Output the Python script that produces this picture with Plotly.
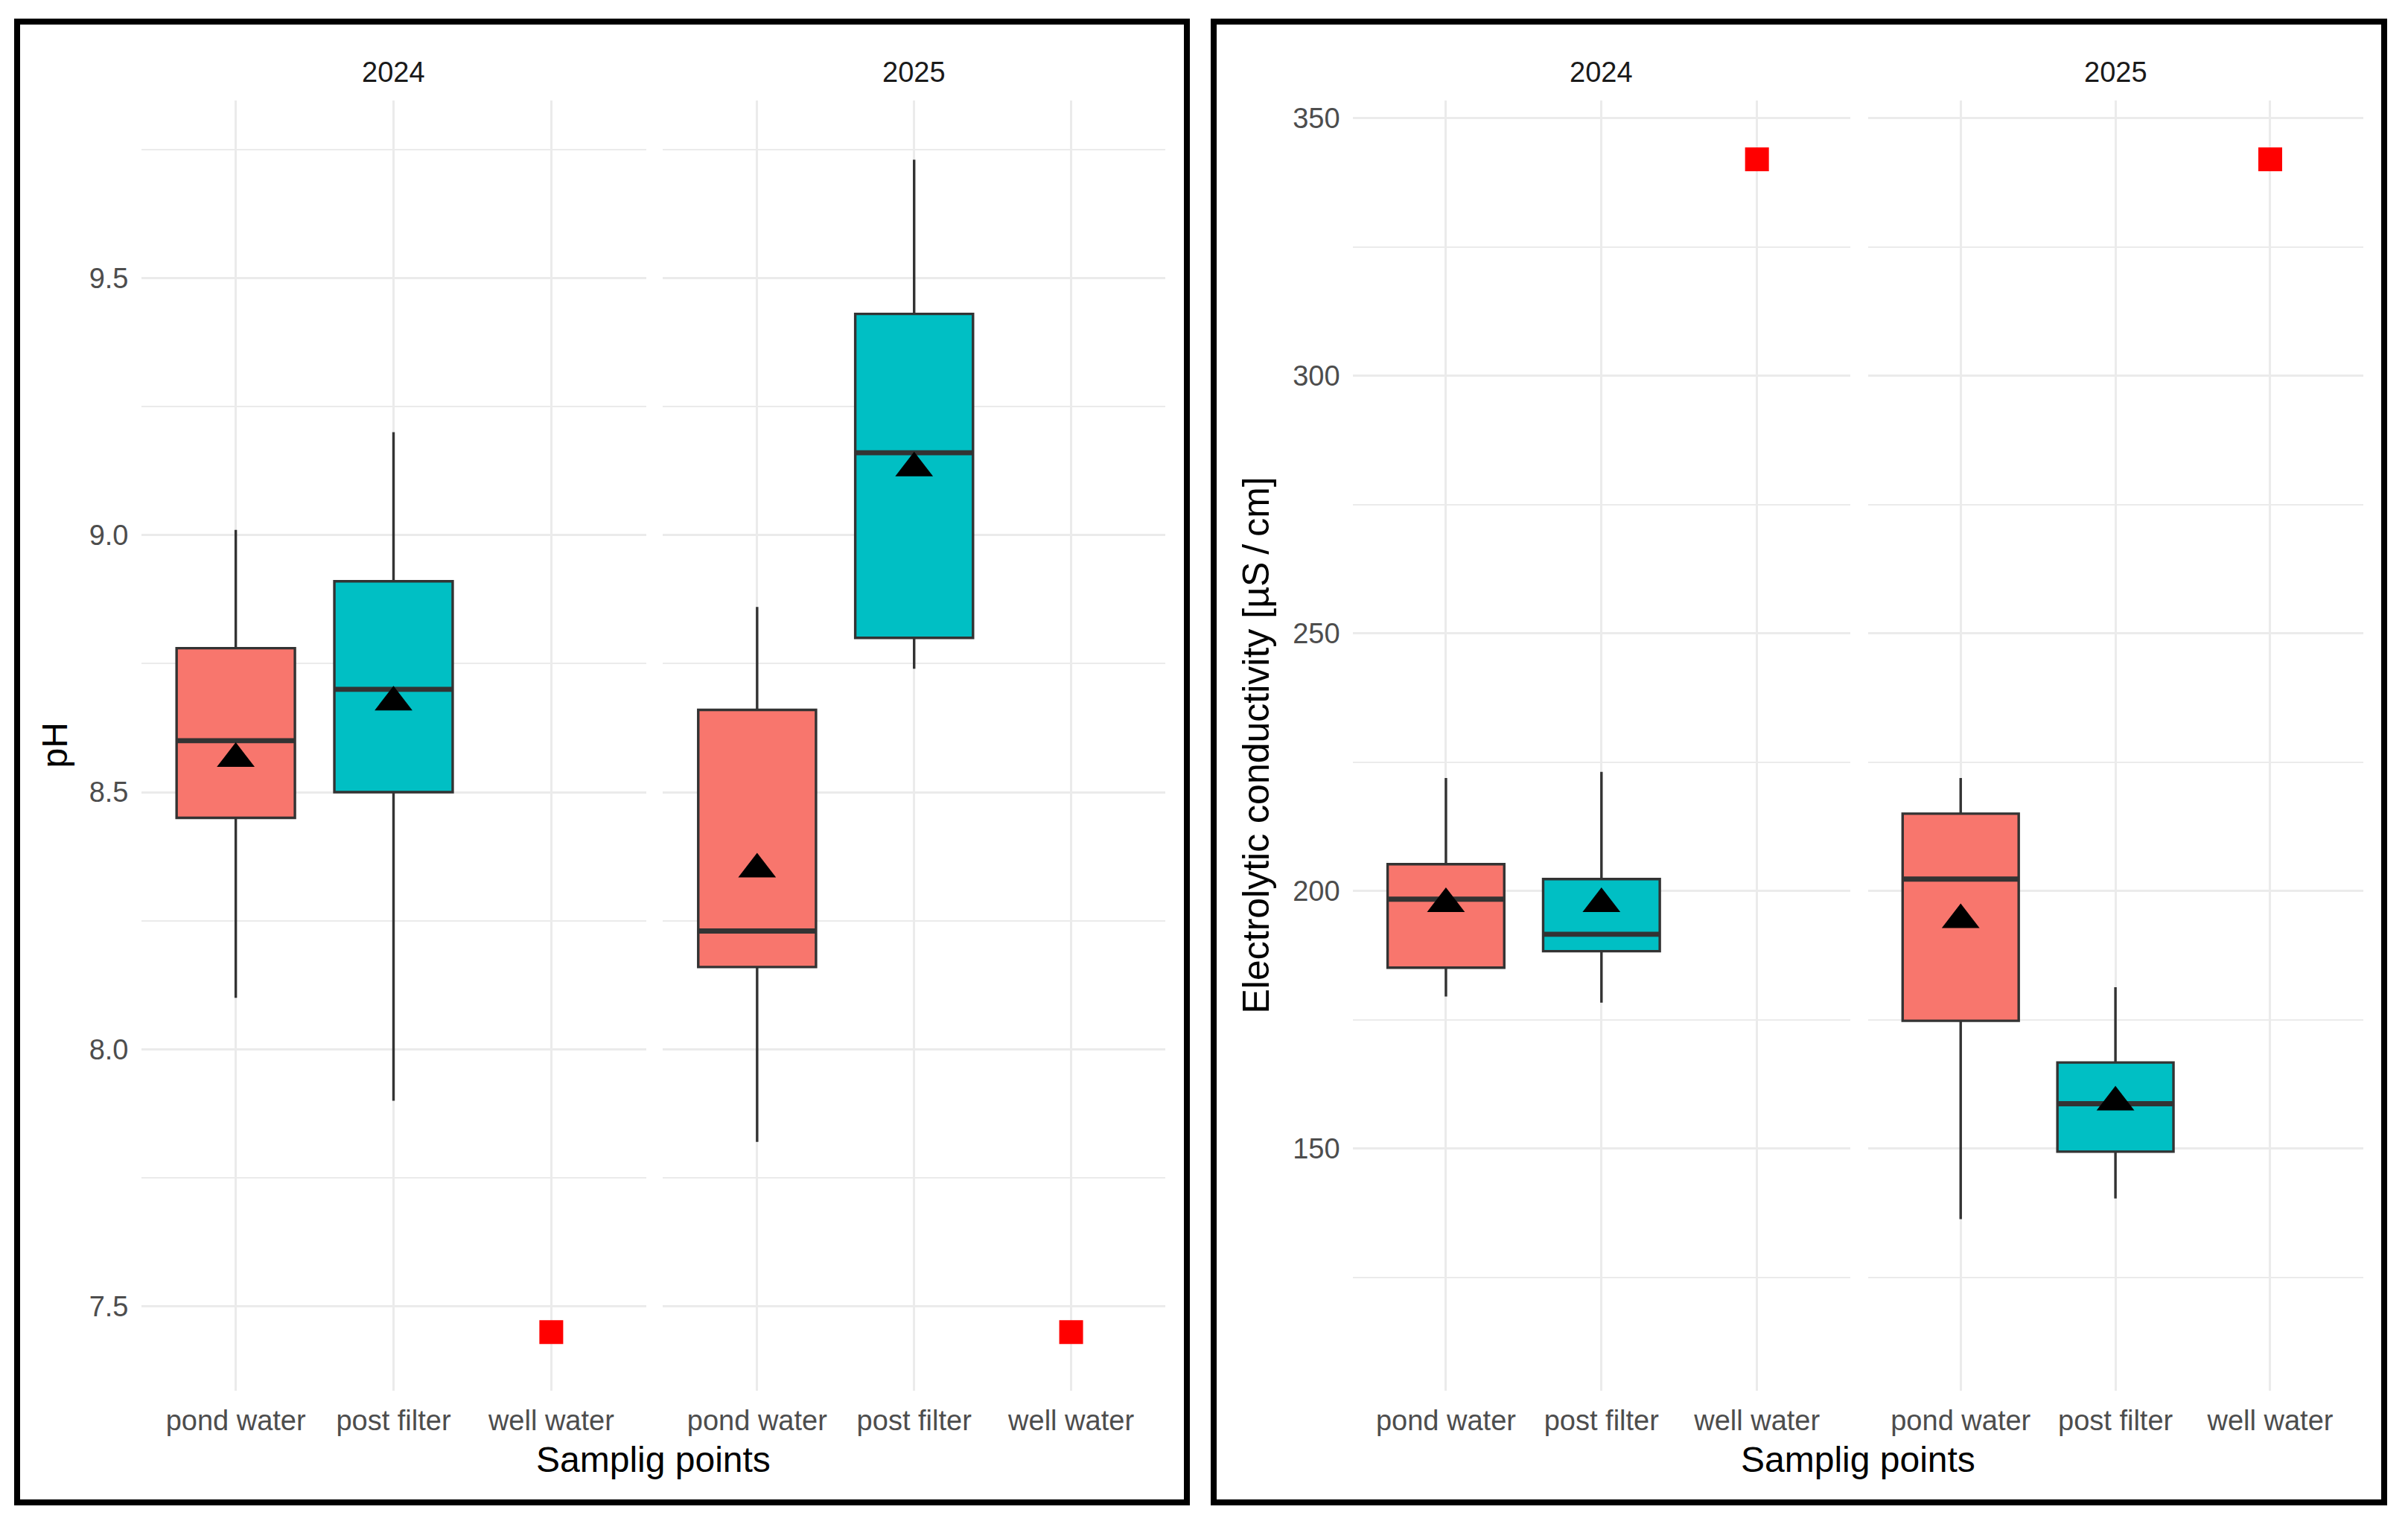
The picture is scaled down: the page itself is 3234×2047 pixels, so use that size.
import plotly.graph_objects as go

# sampling points and facets
points = ["pond water", "post filter", "well water"]
years = ["2024", "2025"]

# pH box statistics per year (pond water, post filter)
ph_lower = {"2024": [8.10, 7.90], "2025": [7.82, 8.74]}
ph_q1 = {"2024": [8.45, 8.50], "2025": [8.16, 8.80]}
ph_median = {"2024": [8.60, 8.70], "2025": [8.23, 9.16]}
ph_q3 = {"2024": [8.78, 8.91], "2025": [8.66, 9.43]}
ph_upper = {"2024": [9.01, 9.20], "2025": [8.86, 9.73]}
ph_mean = {"2024": [8.565, 8.675], "2025": [8.35, 9.13]}
ph_well = {"2024": 7.45, "2025": 7.45}

# electrolytic conductivity box statistics [uS/cm]
ec_lower = {"2024": [179.5, 178.3], "2025": [136.3, 140.3]}
ec_q1 = {"2024": [185.1, 188.3], "2025": [174.8, 149.4]}
ec_median = {"2024": [198.4, 191.6], "2025": [202.3, 158.7]}
ec_q3 = {"2024": [205.2, 202.3], "2025": [215.0, 166.7]}
ec_upper = {"2024": [221.9, 223.1], "2025": [221.9, 181.3]}
ec_mean = {"2024": [197.5, 197.5], "2025": [194.4, 159.0]}
ec_well = {"2024": 342.0, "2025": 342.0}

fills = ["#F8766D", "#00BFC4"]
BOX_W = 0.75
W, H = 3234, 2047
FONT = "Liberation Sans, Arial, sans-serif"

fig = go.Figure()


def add_facet(ax, lower, q1, med, q3, upper, mean, well):
    xa = "x" if ax == 1 else "x%d" % ax
    ya = "y" if ax == 1 else "y%d" % ax
    for i in range(2):
        fig.add_trace(go.Box(
            x=[i], q1=[q1[i]], median=[med[i]], q3=[q3[i]],
            lowerfence=[lower[i]], upperfence=[upper[i]],
            width=BOX_W, whiskerwidth=0, fillcolor=fills[i],
            line=dict(color="#333333", width=3.4),
            boxpoints=False, showlegend=False, hoverinfo="skip",
            xaxis=xa, yaxis=ya))
        # thicker median line as in ggplot
        fig.add_trace(go.Scatter(
            x=[i - BOX_W / 2, i + BOX_W / 2], y=[med[i], med[i]],
            mode="lines", line=dict(color="#333333", width=6.8),
            showlegend=False, hoverinfo="skip", xaxis=xa, yaxis=ya))
    fig.add_trace(go.Scatter(
        x=[0, 1], y=mean, mode="markers",
        marker=dict(symbol="triangle-up", size=44, color="black", line=dict(width=0)),
        showlegend=False, xaxis=xa, yaxis=ya))
    fig.add_trace(go.Scatter(
        x=[2], y=[well], mode="markers",
        marker=dict(symbol="square", size=32, color="red", line=dict(width=0)),
        showlegend=False, xaxis=xa, yaxis=ya))


for k, yr in enumerate(years):
    add_facet(1 + k, ph_lower[yr], ph_q1[yr], ph_median[yr], ph_q3[yr],
              ph_upper[yr], ph_mean[yr], ph_well[yr])
    add_facet(3 + k, ec_lower[yr], ec_q1[yr], ec_median[yr], ec_q3[yr],
              ec_upper[yr], ec_mean[yr], ec_well[yr])

x_domains = [[189.5 / W, 867.5 / W], [890.3 / W, 1565.1 / W],
             [1816.6 / W, 2485.0 / W], [2508.5 / W, 3173.7 / W]]
y_dom = [1 - 1868 / H, 1 - 135 / H]

xcommon = dict(range=[-0.6, 2.6], tickvals=[0, 1, 2], ticktext=points,
               showgrid=True, gridcolor="#EBEBEB", gridwidth=3.2, zeroline=False,
               showline=False, ticks="", ticklabelstandoff=14,
               tickfont=dict(size=38, color="#4D4D4D", family=FONT))
ycommon = dict(domain=y_dom, showgrid=True, gridcolor="#EBEBEB", gridwidth=3.2,
               zeroline=False, showline=False, ticks="", ticklabelstandoff=16,
               tickfont=dict(size=38, color="#4D4D4D", family=FONT))

layout = dict(width=W, height=H, margin=dict(l=0, r=0, t=0, b=0),
              paper_bgcolor="white", plot_bgcolor="white",
              font=dict(family=FONT), showlegend=False)

for n in range(1, 5):
    key = "" if n == 1 else str(n)
    layout["xaxis" + key] = dict(xcommon, domain=x_domains[n - 1], anchor="y" + key)
    ph = n <= 2
    layout["yaxis" + key] = dict(
        ycommon, anchor="x" + key,
        range=[7.336, 9.845] if ph else [103.0, 353.4],
        dtick=0.5 if ph else 50,
        tick0=0,
        minor=dict(dtick=0.25 if ph else 25, showgrid=True,
                   gridcolor="#EBEBEB", gridwidth=1.6),
        showticklabels=(n in (1, 3)))
    if ph:
        layout["yaxis" + key]["tickformat"] = ".1f"

fig.update_layout(**layout)


def label(x, y, text, size, color, angle=0):
    fig.add_annotation(x=x, y=y, xref="paper", yref="paper", text=text,
                       xanchor="center", yanchor="middle", textangle=angle,
                       showarrow=False, font=dict(size=size, color=color, family=FONT))


# facet strip labels
for n, dom in enumerate(x_domains):
    label((dom[0] + dom[1]) / 2, 1 - 97 / H, years[n % 2], 38, "#1A1A1A")

# axis titles
label((x_domains[0][0] + x_domains[1][1]) / 2, 1 - 1960 / H, "Samplig points", 48, "black")
label((x_domains[2][0] + x_domains[3][1]) / 2, 1 - 1960 / H, "Samplig points", 48, "black")
label(73 / W, (y_dom[0] + y_dom[1]) / 2, "pH", 48, "black", -90)
label(1687 / W, (y_dom[0] + y_dom[1]) / 2,
      "Electrolytic conductivity [µS\u2009/\u2009cm]", 50, "black", -90)

# black frames around the two panels
for x0, x1 in [(23, 1594), (1630, 3202)]:
    fig.add_shape(type="rect", xref="paper", yref="paper",
                  x0=x0 / W, x1=x1 / W, y0=1 - 2018 / H, y1=1 - 29 / H,
                  line=dict(color="black", width=8), fillcolor="rgba(0,0,0,0)")

# drop the default page margin so the figure sits at the window corner
fig.write_html("out.html", config={"displayModeBar": False},
               post_script="document.body.style.margin = '0';")
